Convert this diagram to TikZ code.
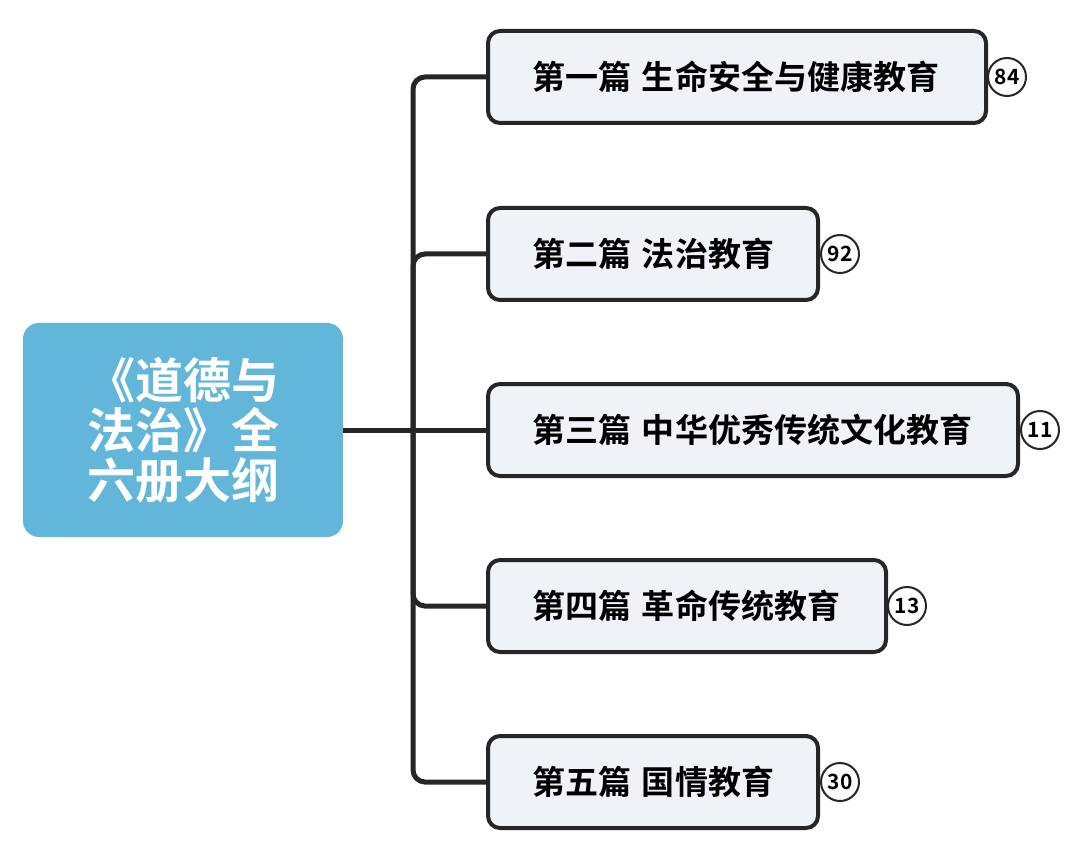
\documentclass[tikz,border=0pt]{standalone}
\usepackage{fontspec}
\setmainfont{Noto Sans CJK SC}[BoldFont={Noto Sans CJK SC Bold}]
\begin{document}
\begin{tikzpicture}[x=0.5pt,y=-0.5pt,
  box/.style={draw=black!85,line width=2pt,fill={rgb,255:red,239;green,242;blue,247},rounded corners=6pt,minimum height=46pt,anchor=west,font=\bfseries\fontsize{16.5}{19}\selectfont,inner ysep=0pt,inner xsep=22pt,align=left},
  num/.style={circle,draw=black!85,line width=1pt,minimum size=19pt,inner sep=0pt,font=\bfseries\fontsize{10.5}{12}\selectfont},
  conn/.style={draw=black!85,line width=2.5pt,rounded corners=6pt}]
\useasboundingbox (0,0) rectangle (1080,844);
\node[fill={rgb,255:red,98;green,182;blue,217},rounded corners=8pt,minimum width=160pt,minimum height=107pt,align=center,text=white,font=\bfseries\fontsize{24}{25}\selectfont] (root) at (183,430) {《道德与\\法治》全\\六册大纲};
\node[box,text width=205pt] (b1) at (486,77) {第一篇 生命安全与健康教育};
\node[box,text width=121pt] (b2) at (486,254) {第二篇 法治教育};
\node[box,text width=221pt] (b3) at (486,430) {第三篇 中华优秀传统文化教育};
\node[box,text width=155pt] (b4) at (486,606) {第四篇 革命传统教育};
\node[box,text width=121pt] (b5) at (486,782) {第五篇 国情教育};
\node[num] (n1) at (1007,77) {84};
\node[num] (n2) at (840,254) {92};
\node[num] (n3) at (1040,430) {11};
\node[num] (n4) at (907,606) {13};
\node[num] (n5) at (840,782) {30};
\coordinate (j) at (413,430);
\draw[conn] (root.east) -- (b3.west);
\draw[conn] (b1.west) -| (j) |- (b5.west);
\draw[conn] (j) |- (b2.west);
\draw[conn] (j) |- (b4.west);
\end{tikzpicture}
\end{document}
